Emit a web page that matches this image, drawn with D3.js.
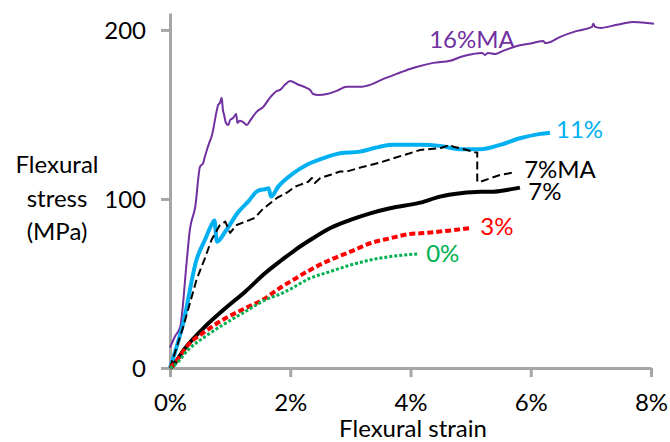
<!DOCTYPE html>
<html><head><meta charset="utf-8">
<script src="https://cdn.jsdelivr.net/npm/d3@7"></script>
<style>
body{margin:0;background:#fff}
svg{display:block}
text{font-family:Lato,"Open Sans",sans-serif;fill:#000}
</style>
</head><body>
<svg id="chart" width="670" height="442"></svg>
<script>
// ---- data: [strain %, stress MPa] ----
const xTickValues = [0, 2, 4, 6, 8];
const yTickValues = [0, 100, 200];
const yTitleLines = ["Flexural", "stress", "(MPa)"];
const xTitle = "Flexural strain";

const ma16 = [[0,12],[0.08,18.5],[0.17,24.4],[0.28,63.9],[0.33,81.7],[0.42,95.4],[0.50,119.1],[0.55,121.1],[0.58,125.0],[0.67,134.9],[0.69,136.7],[0.78,152.7],[0.80,155.6],[0.83,156.8],[0.86,159.8],[0.88,152.7],[0.90,149.7],[0.93,145.0],[0.97,143.8],[1.00,146.7],[1.05,147.9],[1.10,150.3],[1.12,145.0],[1.16,146.2],[1.21,145.6],[1.28,143.8],[1.33,146.2],[1.44,151.5],[1.55,154.4],[1.66,159.8],[1.78,163.9],[1.83,164.5],[1.91,167.5],[2.00,169.8],[2.11,168.0],[2.27,165.7],[2.33,164.5],[2.38,162.1],[2.47,161.5],[2.61,162.1],[2.77,163.9],[2.94,166.3],[3.16,166.3],[3.33,167.5],[3.55,171.0],[3.77,174.0],[3.99,176.9],[4.10,178.1],[4.38,180.5],[4.66,181.7],[4.83,184.0],[5.04,185.8],[5.19,186.4],[5.24,185.2],[5.29,186.4],[5.41,185.8],[5.54,187.6],[5.77,190.5],[6.04,192.3],[6.21,193.5],[6.24,192.3],[6.27,192.3],[6.49,195.9],[6.77,199.4],[7.02,201.8],[7.04,203.6],[7.07,201.8],[7.16,201.2],[7.43,203.0],[7.70,204.7],[7.93,204.1],[8.05,203.6]];

const p11 = [[0,0],[0.08,8.9],[0.22,26.6],[0.44,63.9],[0.58,75.7],[0.69,84.6],[0.74,87.2],[0.78,74.7],[0.92,80.7],[1.14,92.5],[1.30,98.4],[1.44,104.3],[1.50,105.3],[1.58,105.7],[1.64,106.3],[1.68,101.4],[1.80,107.3],[2.05,115.2],[2.27,120.1],[2.55,124.1],[2.83,127.0],[3.16,128.0],[3.49,130.9],[3.72,132.0],[4.16,132.0],[4.49,131.4],[4.83,129.4],[5.16,129.4],[5.49,132.0],[5.82,135.9],[6.16,138.5],[6.32,139.2]];

const ma7 = [[0,0],[0.22,24.3],[0.44,52.1],[0.58,64.9],[0.69,75.7],[0.83,84.6],[0.92,86.6],[1.00,79.9],[1.11,84.6],[1.33,87.6],[1.41,88.8],[1.53,93.5],[1.63,96.4],[1.78,100.6],[1.96,104.1],[2.08,107.3],[2.16,108.3],[2.30,110.2],[2.36,112.4],[2.41,109.5],[2.50,112.4],[2.66,114.2],[2.83,116.2],[2.94,116.2],[3.22,119.1],[3.49,121.5],[3.77,124.7],[3.99,127.0],[4.16,129.0],[4.49,130.0],[4.66,132.0],[4.71,130.9],[4.94,129.0],[5.07,127.6],[5.11,127.5],[5.11,110.2],[5.16,110.2],[5.49,114.2],[5.74,115.8]];

const p7 = [[0,0],[0.03,0.8],[0.25,11.7],[0.58,24.4],[0.92,35.3],[1.25,45.1],[1.58,56.0],[1.86,63.9],[2.08,69.8],[2.33,75.7],[2.66,82.7],[3.00,87.6],[3.33,91.5],[3.66,94.5],[4.16,97.8],[4.49,101.4],[4.83,103.4],[5.16,104.3],[5.38,104.3],[5.60,105.3],[5.82,106.7]];

const p3 = [[0,0],[0.08,3.0],[0.30,13.6],[0.58,21.5],[0.92,29.4],[1.25,35.3],[1.58,41.2],[1.86,48.1],[2.00,51.1],[2.33,58.0],[2.66,63.9],[3.00,68.8],[3.33,73.8],[3.66,76.7],[3.99,79.3],[4.16,79.7],[4.49,80.7],[5.01,82.8]];

const p0 = [[0,0],[0.08,1.8],[0.30,10.7],[0.58,18.5],[0.92,26.4],[1.25,33.3],[1.58,40.2],[1.86,44.2],[2.00,46.7],[2.33,53.1],[2.66,57.0],[3.00,60.9],[3.33,63.9],[3.66,65.9],[4.13,67.5]];

const seriesNames = ["16%MA", "11%", "7%MA", "7%", "3%", "0%"];
const seriesData = [ma16, p11, ma7, p7, p3, p0];

// ---- styles ----
const styles = {
  "16%MA": {color:"#7030a0", width:2, dash:null, smooth:true},
  "11%":   {color:"#00b0f0", width:4, dash:null, smooth:true},
  "7%MA":  {color:"#000000", width:2, dash:"8,4", smooth:false},
  "7%":    {color:"#000000", width:4, dash:null, smooth:true},
  "3%":    {color:"#ff0000", width:4, dash:"6,3", smooth:true},
  "0%":    {color:"#00b050", width:3, dash:"3,2", smooth:true}
};
// label anchor in data units (strain, stress at baseline)
const labelAt = {
  "16%MA": [4.31, 189.3],
  "11%":   [6.42, 136.1],
  "7%MA":  [5.89, 112.4],
  "7%":    [5.96, 99.4],
  "3%":    [5.16, 78.7],
  "0%":    [4.26, 62.7]
};

const svg = d3.select("#chart");
const x = d3.scaleLinear().domain([0, 8]).range([170, 651]);
const y = d3.scaleLinear().domain([0, 210]).range([368, 13]);
const axisColor = "#a6a6a6";
const fs = 24;

// axes
const gx = svg.append("g").attr("transform", `translate(0,${y(0)})`)
  .call(d3.axisBottom(x).tickValues(xTickValues).tickFormat(d => d + "%").tickSize(9).tickSizeOuter(0).tickPadding(17));
const gy = svg.append("g").attr("transform", `translate(${x(0)},0)`)
  .call(d3.axisLeft(y).tickValues(yTickValues).tickSize(9).tickSizeOuter(0).tickPadding(15));
[gx, gy].forEach(g => {
  g.select(".domain").attr("stroke", axisColor).attr("stroke-width", 3);
  g.selectAll(".tick line").attr("stroke", axisColor).attr("stroke-width", 3);
  g.selectAll(".tick text").attr("font-size", fs).attr("font-family", "Lato").attr("fill", "#000");
});
gy.selectAll(".tick text").attr("dy", "0.35em");

// titles
svg.append("text").attr("x", 413).attr("y", 437).attr("text-anchor", "middle").attr("font-size", fs).text(xTitle);
const yt = svg.append("text").attr("text-anchor", "middle").attr("font-size", fs);
yTitleLines.forEach((t, i) => {
  yt.append("tspan").attr("x", 57).attr("y", 173 + i * 33.5).text(t);
});

// lines
const lineLin = d3.line().x(d => x(d[0])).y(d => y(d[1]));
const lineSmooth = d3.line().x(d => x(d[0])).y(d => y(d[1])).curve(d3.curveMonotoneX);
seriesNames.forEach((name, i) => {
  const st = styles[name];
  svg.append("path").datum(seriesData[i])
    .attr("fill", "none").attr("stroke", st.color).attr("stroke-width", st.width)
    .attr("stroke-linejoin", "round")
    .attr("stroke-dasharray", st.dash)
    .attr("d", st.smooth ? lineSmooth : lineLin);
});

// labels
seriesNames.forEach(name => {
  const p = labelAt[name];
  svg.append("text").attr("x", x(p[0])).attr("y", y(p[1]))
    .attr("font-size", fs).attr("fill", styles[name].color).style("fill", styles[name].color)
    .text(name);
});
</script>
</body></html>
